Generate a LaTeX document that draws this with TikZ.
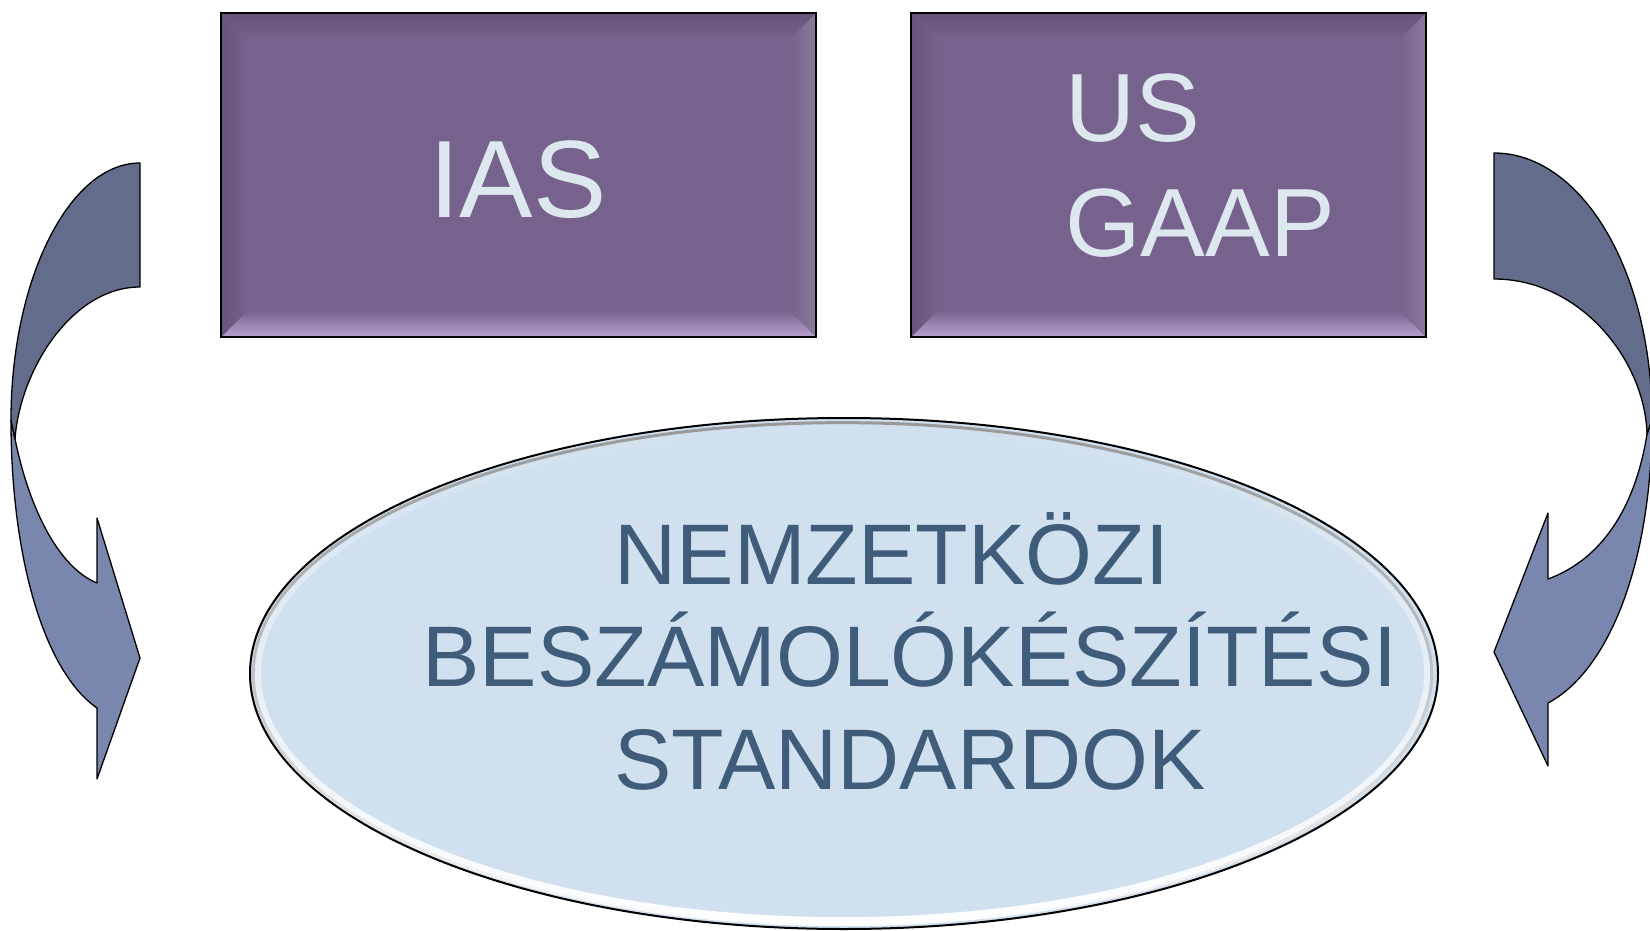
\documentclass[tikz,border=0pt]{standalone}
\usepackage{fontspec}
\setmainfont{Liberation Sans}
\usetikzlibrary{shapes.geometric,fadings}
\definecolor{boxfill}{HTML}{76628C}
\definecolor{boxdark}{HTML}{66547A}
\definecolor{boxlight}{HTML}{B8A0D0}
\definecolor{boxtext}{HTML}{DDE8EE}
\definecolor{ovalfill}{HTML}{D0E0EE}
\definecolor{ovaltext}{HTML}{3F5C7A}
\definecolor{backband}{HTML}{636C8A}
\definecolor{frontband}{HTML}{7986AE}
\tikzset{
	stdbox/.style={fill=boxfill},
	boxline/.style={draw=black, line width=2.5pt},
	boxlabel/.style={text=boxtext, inner sep=0pt},
	ovallabel/.style={text=ovaltext, inner sep=0pt, anchor=base, font=\fontsize{86}{103}\selectfont},
	bandback/.style={fill=backband, draw=black, line width=1.3pt, line join=round},
	bandfront/.style={fill=frontband, draw=black, line width=1.3pt, line join=round}
}
\begin{document}
\begin{tikzpicture}[x=1pt,y=-1pt]
		\useasboundingbox (0,0) rectangle (1650,931);

		\fill[stdbox] (221,13) rectangle (816,337);
		\shade[top color=boxdark, bottom color=boxfill] (221,13) -- (816,13) -- (790,39) -- (247,39) -- cycle;
		\shade[top color=boxfill, bottom color=boxlight, middle color=boxfill!45!boxlight] (221,337) -- (816,337) -- (790,311) -- (247,311) -- cycle;
		\shade[left color=boxdark, right color=boxfill] (221,13) -- (247,39) -- (247,311) -- (221,337) -- cycle;
		\shade[left color=boxfill, right color=boxfill!85!white] (816,13) -- (790,39) -- (790,311) -- (816,337) -- cycle;
		\draw[boxline] (221,13) rectangle (816,337);

		\fill[stdbox] (911,13) rectangle (1426,337);
		\shade[top color=boxdark, bottom color=boxfill] (911,13) -- (1426,13) -- (1400,39) -- (937,39) -- cycle;
		\shade[top color=boxfill, bottom color=boxlight, middle color=boxfill!45!boxlight] (911,337) -- (1426,337) -- (1400,311) -- (937,311) -- cycle;
		\shade[left color=boxdark, right color=boxfill] (911,13) -- (937,39) -- (937,311) -- (911,337) -- cycle;
		\shade[left color=boxfill, right color=boxfill!85!white] (1426,13) -- (1400,39) -- (1400,311) -- (1426,337) -- cycle;
		\draw[boxline] (911,13) rectangle (1426,337);

		\node[boxlabel, anchor=base, font=\fontsize{110}{130}\selectfont] (ias) at (518,218) {IAS};
		\node[boxlabel, anchor=north west, align=left, font=\fontsize{97}{115}\selectfont] (gaap) at (1065,74) {US\\GAAP};

		\node[ellipse, fill=ovalfill, draw=black, line width=2pt, minimum width=1188pt, minimum height=511pt, inner sep=0pt] (oval) at (844,673.5) {};
		\draw[white, line width=9pt, path fading=north] (844,673.5) ellipse [x radius=587, y radius=248];
		\draw[black!40, line width=3pt, path fading=south] (844,673.5) ellipse [x radius=590, y radius=251.5];

		\node[ovallabel] (std1) at (892,584) {NEMZETKÖZI};
		\node[ovallabel] (std2) at (910,686) {BESZÁMOLÓKÉSZÍTÉSI};
		\node[ovallabel] (std3) at (910,789) {STANDARDOK};

		\draw[bandfront] (11,420) .. controls (11,560) and (45,672) .. (97,708) -- (97,779) -- (140,658) -- (97,518) -- (97,583) .. controls (60,568) and (30,512) .. (15,439) -- cycle;
		\draw[bandback] (140,163) .. controls (69,163) and (11,280) .. (11,420) -- (15,439) .. controls (20,370) and (72,287) .. (140,287) -- cycle;

		\draw[bandfront] (1652,420) .. controls (1652,560) and (1610,670) .. (1548,703) -- (1548,766) -- (1494,652) -- (1548,513) -- (1548,579) .. controls (1600,560) and (1635,510) .. (1647,434) -- cycle;
		\draw[bandback] (1494,153) .. controls (1581,153) and (1652,270) .. (1652,420) -- (1647,434) .. controls (1645,360) and (1580,279) .. (1494,279) -- cycle;
	\end{tikzpicture}
\end{document}
